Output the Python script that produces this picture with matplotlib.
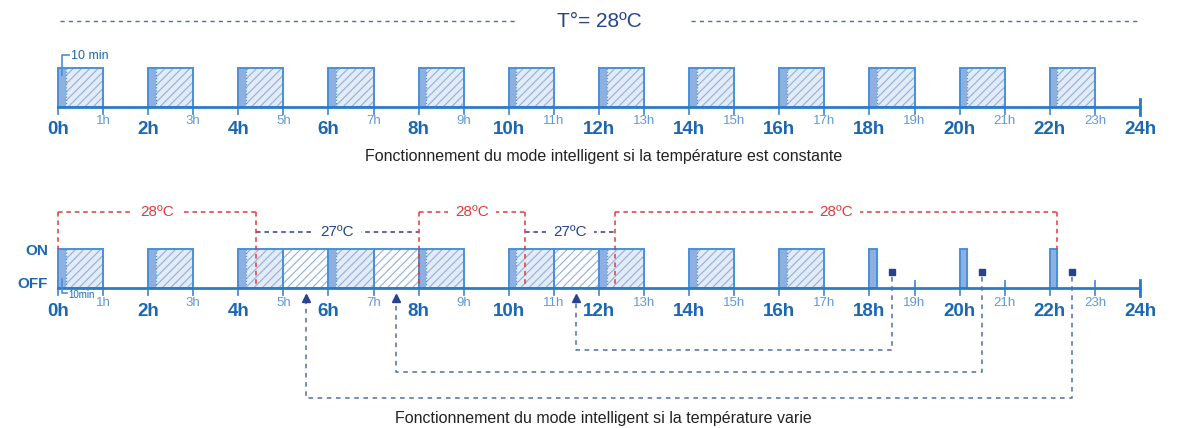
"""Mode intelligent - chronogrammes"""
import matplotlib
matplotlib.use('Agg')
import matplotlib.pyplot as plt
from matplotlib.patches import Rectangle

FONT = ['Liberation Sans Narrow', 'Liberation Sans', 'DejaVu Sans']
plt.rcParams['font.family'] = FONT
plt.rcParams['hatch.linewidth'] = 0.8

# data
HOURS = list(range(0, 25))
BOOST = 1 / 6  # 10 min
TOP_ON = [(h, h + 1) for h in range(0, 24, 2)]
BOTTOM_ON = [(0, 1), (2, 3), (4, 5), (6, 7), (8, 9), (10, 11), (12, 13),
             (14, 15), (16, 17), (18, 18 + BOOST), (20, 20 + BOOST), (22, 22 + BOOST)]
BOTTOM_EXTRA = [(5, 6), (7, 8), (11, 12)]
TEMP_CHANGES = [0, 4.4, 8, 10.36, 12.36, 22 + BOOST]
TEMP_VALUES = [28, 27, 28, 27, 28]
CARRY_FROM = [18.5, 20.5, 22.5]
CARRY_TO = [11.5, 7.5, 5.5]

# style
C_AXIS = '#2d7cc2'
C_EDGE = '#4a90d6'
C_BOOST = '#8db0e0'
C_FILL = '#e3ebf7'
C_HATCH = '#8fb0de'
C_EVEN = '#1b68b1'
C_ODD = '#5f9ad6'
C_NAVY = '#26438f'
C_RED = '#e03a3a'
C_LOOP = '#4a6db3'

fig = plt.figure(figsize=(11.83, 4.28), dpi=100)
ax = fig.add_axes([0, 0, 1, 1])
PX = 45.083
ax.set_xlim(-58 / PX, (1183 - 58) / PX)
ax.set_ylim(428, 0)
ax.axis('off')


def box(x0, x1, base, top, boost=True, fill=C_FILL):
    ax.add_patch(Rectangle((x0, top), x1 - x0, base - top, facecolor=fill,
                           edgecolor=C_HATCH, hatch='////', lw=0, zorder=2))
    if boost:
        ax.add_patch(Rectangle((x0, top), min(BOOST, x1 - x0), base - top,
                               facecolor=C_BOOST, lw=0, zorder=3))
        if x1 - x0 > BOOST:
            ax.plot([x0 + BOOST] * 2, [top, base], color=C_EDGE, lw=0.9,
                    ls=(0, (1, 1.5)), zorder=4)
    ax.add_patch(Rectangle((x0, top), x1 - x0, base - top, facecolor='none',
                           edgecolor=C_EDGE, lw=1.4, zorder=5))


def timeline(base, lab_even, lab_odd):
    ax.plot([0, 24], [base, base], color=C_AXIS, lw=2, zorder=6)
    for h in HOURS:
        ax.plot([h, h], [base - 7, base + 7], color=C_EDGE, lw=1.3, zorder=1)
        if h % 2 == 0:
            ax.text(h, lab_even, f'{h}h', color=C_EVEN, fontsize=13.5,
                    fontweight='bold', ha='center', va='center')
        else:
            ax.text(h, lab_odd, f'{h}h', color=C_ODD, fontsize=9.5,
                    ha='center', va='center')
    ax.plot([24, 24], [base - 8, base + 8], color=C_AXIS, lw=2, zorder=6)


# ---- top chart: constant temperature
ax.plot([0.05, 10.2], [21, 21], color=C_LOOP, lw=1, ls=(0, (3, 3)))
ax.plot([14.05, 23.95], [21, 21], color=C_LOOP, lw=1, ls=(0, (3, 3)))
ax.text(12.0, 21, 'T°= 28ºC', color=C_NAVY, fontsize=15, ha='center', va='center')
for a, b in TOP_ON:
    box(a, b, 107, 68)
timeline(107, 130, 121)
ax.plot([0.09, 0.09, 0.25], [75, 55, 55], color=C_EDGE, lw=1.2, zorder=7)
ax.text(0.28, 56, '10 min', color=C_EVEN, fontsize=9, ha='left', va='center')
ax.text(12.1, 157, 'Fonctionnement du mode intelligent si la température est constante',
        color='#222222', fontsize=11.5, ha='center', va='center')

# ---- bottom chart: varying temperature
for a, b in BOTTOM_EXTRA:
    box(a, b, 288, 249, boost=False, fill='white')
for a, b in BOTTOM_ON:
    box(a, b, 288, 249)
timeline(288, 311, 303)
ax.text(-0.22, 251, 'ON', color=C_EVEN, fontsize=11, fontweight='bold',
        ha='right', va='center')
ax.text(-0.22, 284, 'OFF', color=C_EVEN, fontsize=11, fontweight='bold',
        ha='right', va='center')
ax.plot([0.09, 0.09, 0.2], [279, 293, 293], color=C_EDGE, lw=1.2, zorder=7)
ax.text(0.22, 295.5, '10min', color=C_EVEN, fontsize=7, ha='left', va='center')

# temperature set points
for i, t in enumerate(TEMP_VALUES):
    a, b = TEMP_CHANGES[i], TEMP_CHANGES[i + 1]
    col, y = (C_RED, 212) if t == 28 else (C_NAVY, 232)
    ax.plot([a, b], [y, y], color=col, lw=1.1, ls=(0, (3, 2.5)), zorder=7)
    ax.text((a + b) / 2, y, f'{t}ºC', color=col, fontsize=11, ha='center',
            va='center', zorder=8,
            bbox=dict(facecolor='white', edgecolor='none', pad=5))
for i, x in enumerate(TEMP_CHANGES):
    y_end = 249 if i in (0, len(TEMP_CHANGES) - 1) else 288
    ax.plot([x, x], [212, y_end], color=C_RED, lw=1.1, ls=(0, (3, 2.5)), zorder=7)

# shifted cycles
for k, (src, dst) in enumerate(zip(CARRY_FROM, CARRY_TO)):
    level = [350, 372, 398][k]
    ax.plot([src], [272], marker='s', ms=4.5, color=C_NAVY, zorder=8)
    ax.plot([src, src, dst, dst], [277, level, level, 301], color=C_LOOP,
            lw=1.1, ls=(0, (3, 3)), zorder=7)
    ax.plot([dst], [298], marker='^', ms=6, color=C_NAVY, zorder=8)

ax.text(12.1, 418, 'Fonctionnement du mode intelligent si la température varie',
        color='#222222', fontsize=11.5, ha='center', va='center')

fig.savefig('out.png', dpi=100)
